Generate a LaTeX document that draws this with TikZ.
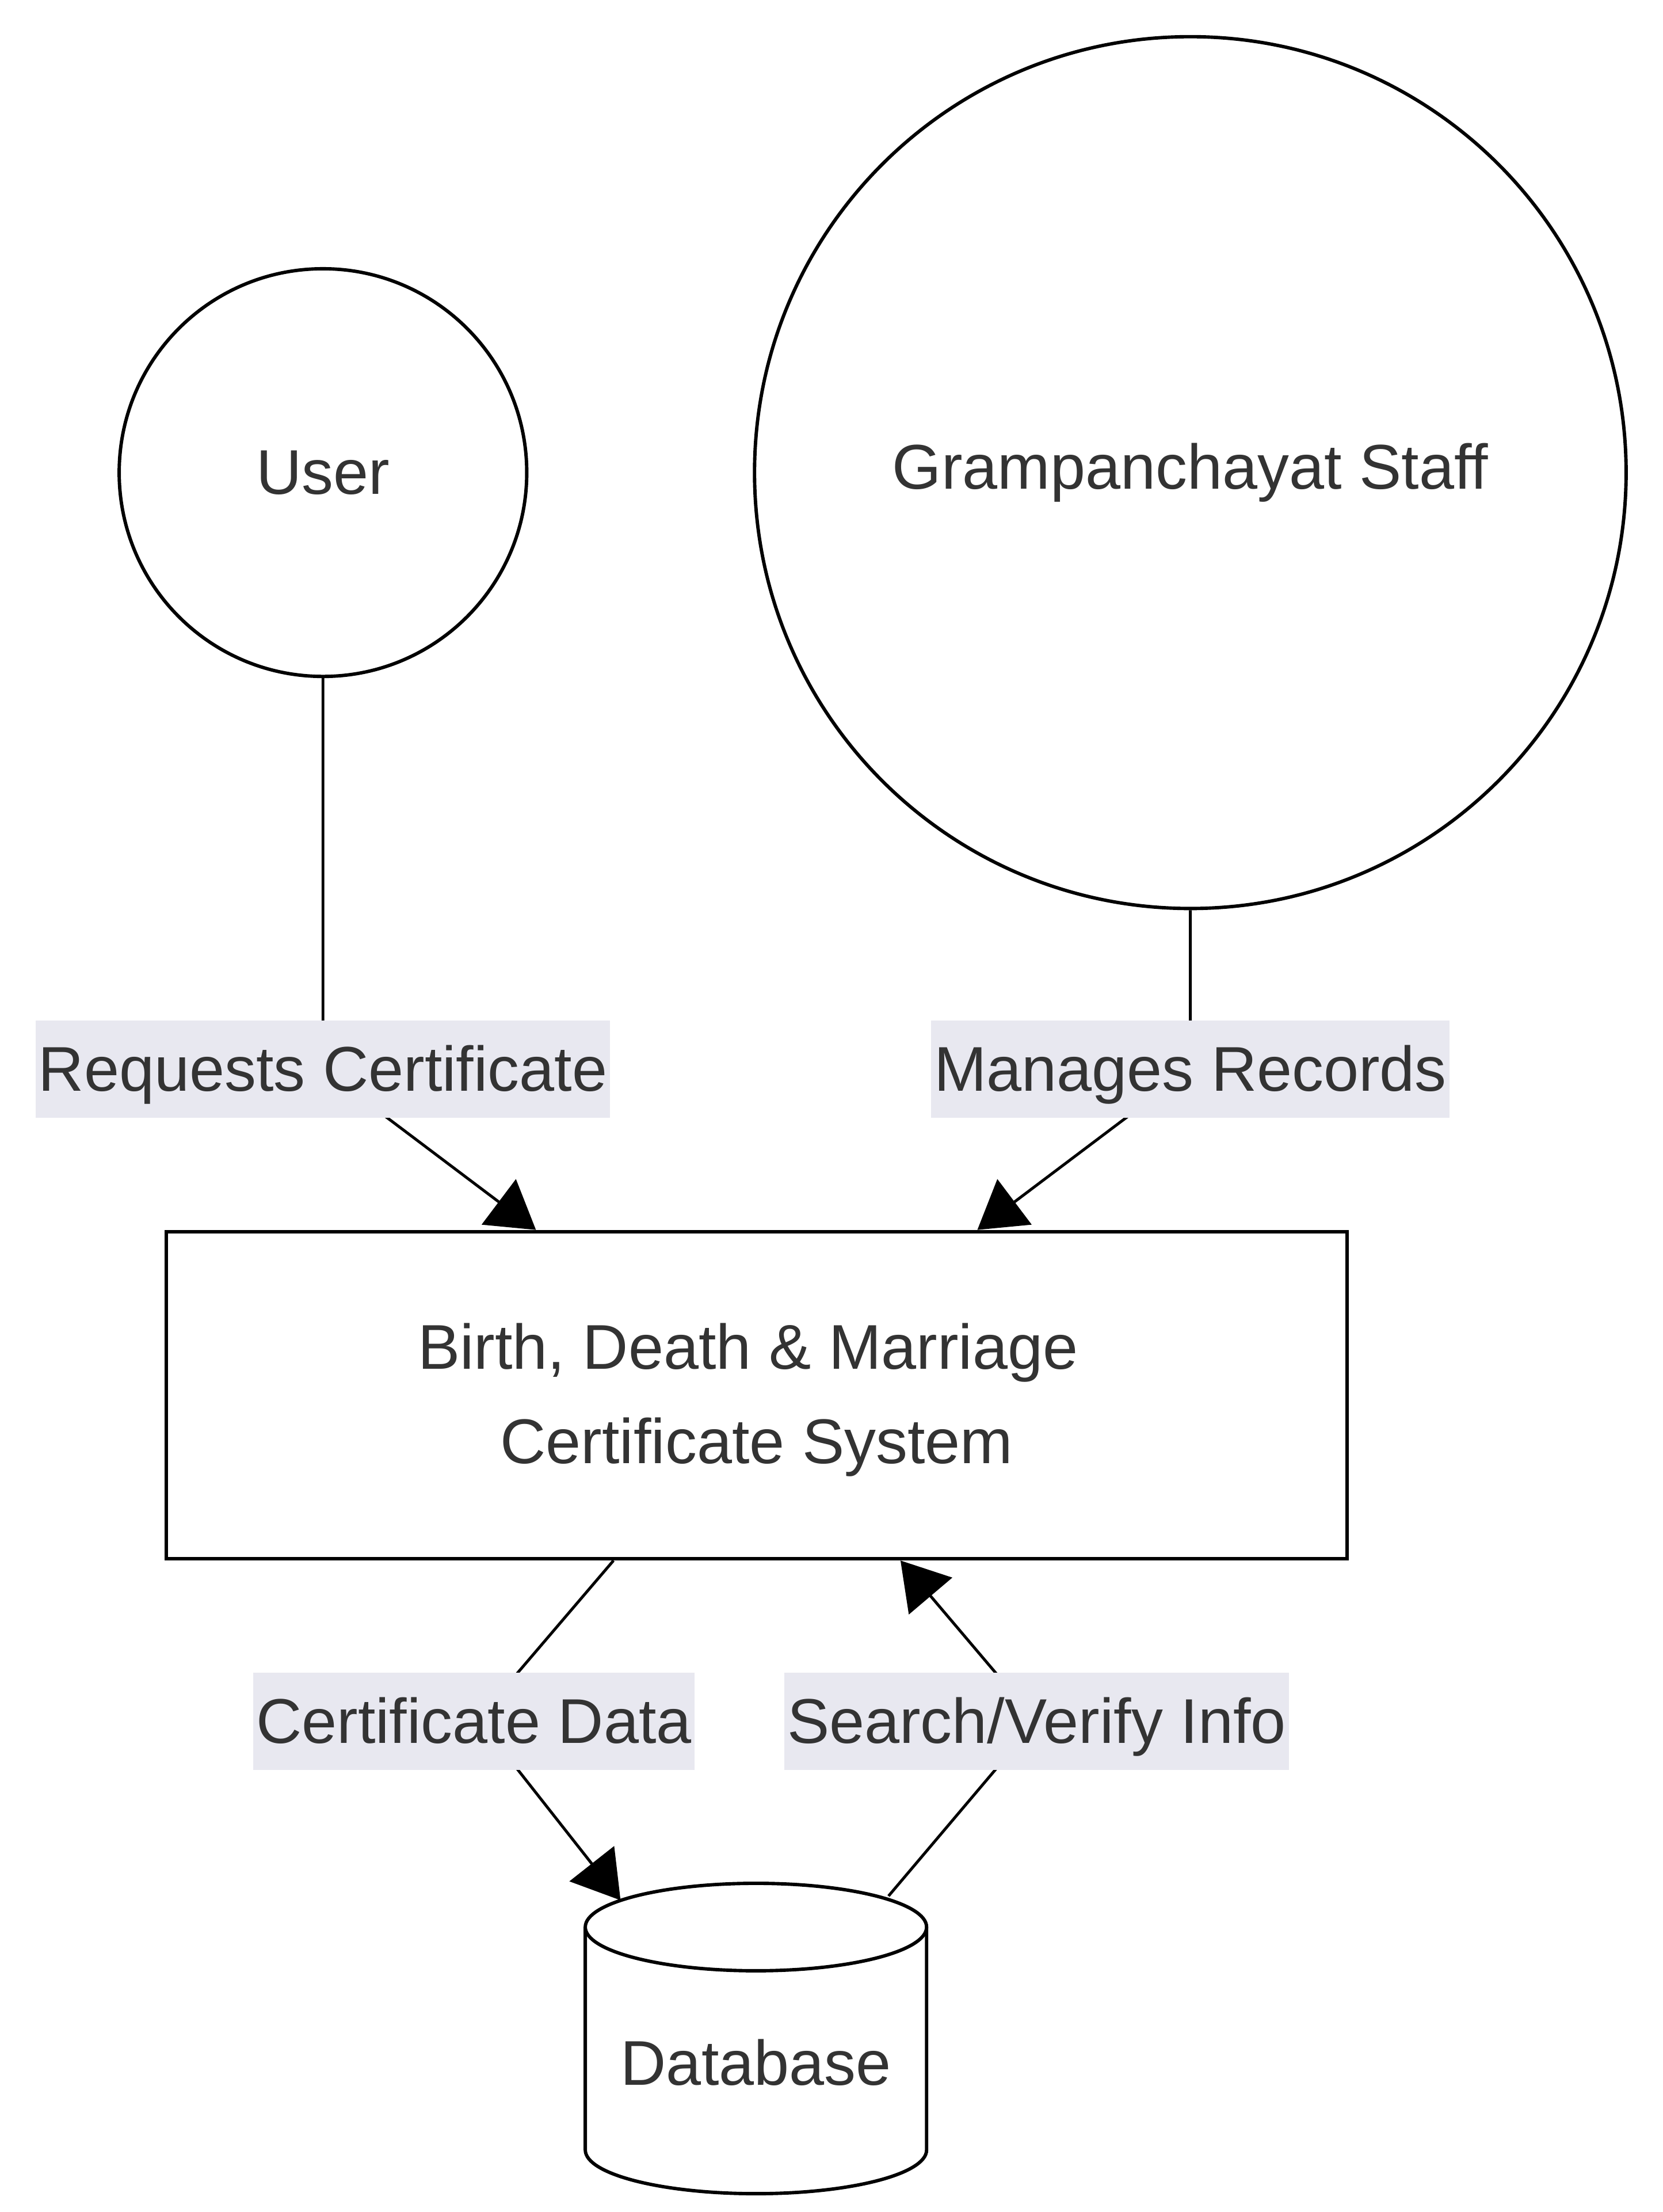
\documentclass[tikz,border=0pt]{standalone}
\usepackage{fontspec}
\setmainfont{Liberation Sans}
\usetikzlibrary{arrows.meta}
\definecolor{txt}{HTML}{333333}
\definecolor{lblbg}{HTML}{E8E8F0}
\begin{document}
\begin{tikzpicture}[x=0.5pt,y=-0.5pt,
  every node/.style={font=\fontsize{22.4pt}{33.5pt}\selectfont, text=txt},
  entity/.style={circle, draw=black, line width=1.2pt, fill=white, inner sep=0pt},
  process/.style={rectangle, draw=black, line width=1.2pt, fill=white, minimum width=418.5pt, minimum height=116pt, inner sep=0pt},
  flowlabel/.style={fill=lblbg, inner xsep=1pt, inner ysep=0pt, text height=20.3pt, text depth=4.75pt, minimum height=34.5pt},
  flow/.style={draw=black, line width=1.0pt, -{Triangle[length=16.5pt,width=20pt]}},
  nodeline/.style={draw=black, line width=1.2pt, fill=white}]

\useasboundingbox (0,0) rectangle (1179,1568);

% nodes
\node[entity, minimum size=144.5pt] (user) at (229,335) {User};
\node[entity, minimum size=309pt] (staff) at (844,335) {Grampanchayat Staff};
\node[process] (sys) at (536.5,989) {};
\node[align=center, inner sep=0pt] (systext) at ([yshift=-1.6pt]sys.center) {Birth, Death \& Marriage\hspace*{6.2pt}\\Certificate System};

% database cylinder
\draw[nodeline] (415,1366) -- (415,1524) arc[start angle=180, end angle=360, x radius=60.5pt, y radius=15.5pt] -- (657,1366);
\draw[nodeline] (536,1366) ellipse [x radius=60.5pt, y radius=15.5pt];
\node (db) at (536,1462) {Database};
\coordinate (dbA) at (440,1347);
\coordinate (dbB) at (630,1344);

% bend points
\coordinate (b1) at (229,758);
\coordinate (b2) at (844,758);
\coordinate (b3a) at (366,1187);
\coordinate (b3b) at (366,1253);
\coordinate (b4a) at (707,1253);
\coordinate (b4b) at (707,1187);

% connectors
\draw[flow] (user.south) -- (b1) -- ([xshift=-78.25pt]sys.north);
\draw[flow] (staff.south) -- (b2) -- ([xshift=78.25pt]sys.north);
\draw[flow] ([xshift=-50.75pt]sys.south) -- (b3a) -- (b3b) -- (dbA);
\draw[flow] (dbB) -- (b4a) -- (b4b) -- ([xshift=51pt]sys.south);

% labels
\node[flowlabel] (l1) at (b1) {Requests Certificate};
\node[flowlabel] (l2) at (b2) {Manages Records};
\node[flowlabel] (l3) at (336,1220) {Certificate Data};
\node[flowlabel] (l4) at (735,1220) {Search/Verify Info};
\end{tikzpicture}
\end{document}
